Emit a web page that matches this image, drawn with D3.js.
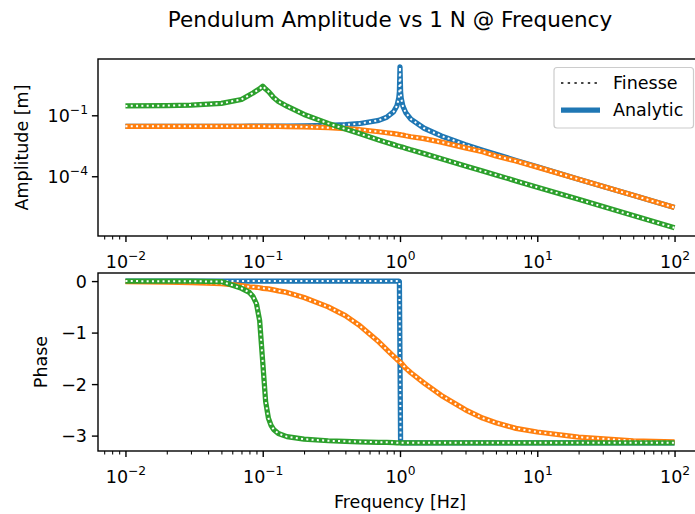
<!DOCTYPE html>
<meta charset="utf-8">
<style>
    body {
        margin: 0;
        background: #fff;
    }

    svg {
        font-family: "DejaVu Sans", sans-serif;
    }

    .tick line {
        stroke: #000;
    }
</style>
<body>
<script src="https://d3js.org/d3.v7.min.js"></script>
<script>
    const freq = [0.01, 0.02, 0.03, 0.05, 0.07, 0.08, 0.085, 0.09, 0.095, 0.1, 0.105, 0.11, 0.115, 0.12, 0.13,
        0.15, 0.2, 0.3, 0.4, 0.5, 0.7, 0.8, 0.9, 0.95, 0.98, 0.99, 1.0, 1.01, 1.02, 1.05, 1.1, 1.2, 1.5, 2, 3,
        4, 5, 7, 10, 20, 50, 100];

    // amplitude [m]
    const ampBlue = [0.0288, 0.0288, 0.0288, 0.0288, 0.0288, 0.029, 0.029, 0.029, 0.0291, 0.0291, 0.0291,
        0.0292, 0.0292, 0.0292, 0.0293, 0.0295, 0.030, 0.0316, 0.0343, 0.0384, 0.0565, 0.08, 0.152, 0.295,
        0.727, 1.45, 24, 1.43, 0.71, 0.281, 0.137, 0.065, 0.023, 0.0096, 0.0036, 0.0019, 0.0012, 6.0e-4,
        2.9e-4, 7.2e-5, 1.15e-5, 2.88e-6];
    const ampOrange = [0.0288, 0.0288, 0.0288, 0.0288, 0.0287, 0.0286, 0.0286, 0.0286, 0.0285, 0.0285, 0.0285,
        0.0284, 0.0284, 0.0283, 0.0282, 0.028, 0.0269, 0.0245, 0.0223, 0.020, 0.0155, 0.0138, 0.0124, 0.0118,
        0.0114, 0.0113, 0.0112, 0.0111, 0.0109, 0.0105, 0.0098, 0.0088, 0.0071, 0.0048, 0.0025, 0.0016, 0.001,
        5.6e-4, 2.82e-4, 7.1e-5, 1.15e-5, 2.88e-6];
    const ampGreen = [0.29, 0.30, 0.32, 0.385, 0.6, 1.0, 1.25, 1.6, 2.0, 2.7, 1.95, 1.5, 1.05, 0.75, 0.48,
        0.28, 0.11, 0.04, 0.021, 0.013, 0.0061, 0.0046, 0.0036, 0.0032, 0.0030, 0.00296, 0.0029, 0.00285,
        0.0028, 0.00265, 0.0024, 0.002, 0.0013, 7.3e-4, 3.2e-4, 1.8e-4, 1.16e-4, 5.9e-5, 2.9e-5, 7.3e-6,
        1.16e-6, 2.9e-7];

    // phase [rad]
    const phaseBlue = [0, 0, 0, 0, 0, 0, 0, 0, 0, 0, 0, 0, 0, 0, 0, 0, 0, 0, 0, 0, 0, 0, 0, 0, 0, -0.01, -1.57,
        -3.13, -3.14, -3.14, -3.14, -3.14, -3.14, -3.14, -3.14, -3.14, -3.14, -3.14, -3.14, -3.14, -3.14, -3.14];
    const phaseOrange = [-0.01, -0.02, -0.03, -0.05, -0.09, -0.11, -0.115, -0.12, -0.13, -0.14, -0.145, -0.15,
        -0.16, -0.17, -0.19, -0.22, -0.32, -0.5, -0.67, -0.85, -1.18, -1.33, -1.46, -1.52, -1.55, -1.56, -1.57,
        -1.58, -1.59, -1.63, -1.69, -1.78, -1.98, -2.22, -2.5, -2.66, -2.75, -2.86, -2.93, -3.03, -3.1, -3.12];
    const phaseGreen = [0, -0.002, -0.003, -0.01, -0.14, -0.22, -0.3, -0.44, -0.77, -1.57, -2.34, -2.66, -2.8,
        -2.88, -2.96, -3.02, -3.07, -3.1, -3.11, -3.12, -3.13, -3.13, -3.135, -3.14, -3.14, -3.14, -3.14, -3.14,
        -3.14, -3.14, -3.14, -3.14, -3.14, -3.14, -3.14, -3.14, -3.14, -3.14, -3.14, -3.14, -3.14, -3.14];

    const colors = ["#1f77b4", "#ff7f0e", "#2ca02c"];
    const freqTicks = [0.01, 0.1, 1, 10, 100];
    const ampTicks = [1e-1, 1e-4];
    const phaseTicks = [0, -1, -2, -3];
    const legendLabels = ["Finesse", "Analytic"];
    const titleText = "Pendulum Amplitude vs 1 N @ Frequency";

    const width = 695, height = 514;
    const left = 98, right = 702;
    const top1 = 59, bot1 = 236, top2 = 273, bot2 = 451;
    const fs = 17.5;

    const svg = d3.select("body").append("svg")
        .attr("width", width)
        .attr("height", height);

    const x = d3.scaleLog().domain([Math.pow(10, -2.2), Math.pow(10, 2.2)]).range([left, right]);
    const yAmp = d3.scaleLog().domain([Math.pow(10, -6.94), Math.pow(10, 1.77)]).range([bot1, top1]);
    const yPh = d3.scaleLinear().domain([-3.299, 0.157]).range([bot2, top2]);

    // minor log ticks 2..9 of every decade inside the domain
    const minorX = [];
    for (let k = -3; k <= 2; k++) {
        for (let m = 2; m <= 9; m++) {
            const v = m * Math.pow(10, k);
            if (v > x.domain()[0] && v < x.domain()[1]) minorX.push(v);
        }
    }

    function expText(e) {
        return e < 0 ? "\u2212" + (-e) : String(e);
    }

    // "10" with a superscript exponent
    function powLabel(sel) {
        sel.each(function (d) {
            const t = d3.select(this);
            t.text(null);
            t.append("tspan").text("10");
            t.append("tspan")
                .attr("dy", "-8px")
                .attr("font-size", 12.3)
                .text(expText(Math.round(Math.log10(d))));
        });
    }

    function xAxis(yPos) {
        svg.append("g")
            .attr("transform", "translate(0," + yPos + ")")
            .call(d3.axisBottom(x).tickValues(minorX).tickSize(3.5).tickFormat(""))
            .call(g => g.select(".domain").remove())
            .selectAll(".tick line").attr("stroke-width", 1.05);

        const g = svg.append("g")
            .attr("transform", "translate(0," + yPos + ")")
            .call(d3.axisBottom(x).tickValues(freqTicks).tickSize(6.1).tickFormat(""));
        g.select(".domain").remove();
        g.attr("font-size", fs).attr("font-family", null);
        g.selectAll(".tick line").attr("stroke-width", 1.4);
        g.selectAll(".tick text")
            .attr("y", 32)
            .attr("dy", null)
            .attr("fill", "#000")
            .call(powLabel);
    }

    const defs = svg.append("defs");
    [[top1, bot1, "clip1"], [top2, bot2, "clip2"]].forEach(c => {
        defs.append("clipPath").attr("id", c[2])
            .append("rect")
            .attr("x", left).attr("y", c[0])
            .attr("width", right - left).attr("height", c[1] - c[0]);
    });

    // ---- top panel: amplitude
    xAxis(bot1);
    const gy1 = svg.append("g")
        .attr("transform", "translate(" + left + ",0)")
        .call(d3.axisLeft(yAmp).tickValues(ampTicks).tickSize(6.1).tickFormat(""));
    gy1.select(".domain").remove();
    gy1.attr("font-size", fs).attr("font-family", null);
    gy1.selectAll(".tick line").attr("stroke-width", 1.4);
    gy1.selectAll(".tick text")
        .attr("x", -10)
        .attr("dy", "6.5px")
        .attr("fill", "#000")
        .call(powLabel);

    // ---- bottom panel: phase
    xAxis(bot2);
    const gy2 = svg.append("g")
        .attr("transform", "translate(" + left + ",0)")
        .call(d3.axisLeft(yPh).tickValues(phaseTicks).tickSize(6.1).tickFormat(d => d < 0 ? "\u2212" + (-d) : "0"));
    gy2.select(".domain").remove();
    gy2.attr("font-size", fs).attr("font-family", null);
    gy2.selectAll(".tick line").attr("stroke-width", 1.4);
    gy2.selectAll(".tick text")
        .attr("x", -11)
        .attr("dy", "6.3px")
        .attr("fill", "#000");

    // curves: analytic (thick, coloured) then finesse (dotted) on top
    const series = [
        {amp: ampBlue, phase: phaseBlue},
        {amp: ampOrange, phase: phaseOrange},
        {amp: ampGreen, phase: phaseGreen}
    ];

    const lineAmp = d3.line().x((d, i) => x(freq[i])).y(d => yAmp(d));
    const linePh = d3.line().x((d, i) => x(freq[i])).y(d => yPh(d));

    const plot1 = svg.append("g").attr("clip-path", "url(#clip1)");
    const plot2 = svg.append("g").attr("clip-path", "url(#clip2)");

    series.forEach((s, k) => {
        [[plot1, lineAmp, s.amp], [plot2, linePh, s.phase]].forEach(p => {
            p[0].append("path")
                .attr("d", p[1](p[2]))
                .attr("fill", "none")
                .attr("stroke", colors[k])
                .attr("stroke-width", 5.25)
                .attr("stroke-linejoin", "round");
            p[0].append("path")
                .attr("d", p[1](p[2]))
                .attr("fill", "none")
                .attr("stroke", "#fff")
                .attr("stroke-width", 2)
                .attr("stroke-dasharray", "2,3.3");
        });
    });

    // spines
    [[top1, bot1], [top2, bot2]].forEach(c => {
        svg.append("rect")
            .attr("x", left).attr("y", c[0])
            .attr("width", right - left).attr("height", c[1] - c[0])
            .attr("fill", "none")
            .attr("stroke", "#000")
            .attr("stroke-width", 1.4);
    });

    // axis labels
    svg.append("text")
        .attr("transform", "translate(27.5," + ((top1 + bot1) / 2) + ") rotate(-90)")
        .attr("text-anchor", "middle")
        .attr("font-size", fs)
        .text("Amplitude [m]");
    svg.append("text")
        .attr("transform", "translate(47," + ((top2 + bot2) / 2) + ") rotate(-90)")
        .attr("text-anchor", "middle")
        .attr("font-size", fs)
        .text("Phase");
    svg.append("text")
        .attr("x", (left + right) / 2)
        .attr("y", 508)
        .attr("text-anchor", "middle")
        .attr("font-size", fs)
        .text("Frequency [Hz]");

    // title
    svg.append("text")
        .attr("x", 390)
        .attr("y", 27)
        .attr("text-anchor", "middle")
        .attr("font-size", 21.5)
        .text(titleText);

    // legend
    const legend = svg.append("g").attr("class", "legend");
    legend.append("rect")
        .attr("x", 554).attr("y", 67.5)
        .attr("width", 139.5).attr("height", 60.5)
        .attr("rx", 3)
        .attr("fill", "#fff").attr("fill-opacity", 0.8)
        .attr("stroke", "#ccc").attr("stroke-width", 1.2);

    const rows = legend.selectAll(".row")
        .data(legendLabels)
        .enter().append("g")
        .attr("class", "row")
        .attr("transform", (d, i) => "translate(0," + (83 + i * 27) + ")");

    rows.append("line")
        .attr("x1", 561).attr("x2", 600)
        .attr("stroke", (d, i) => i === 0 ? "#444" : colors[0])
        .attr("stroke-width", (d, i) => i === 0 ? 2 : 5.25)
        .attr("stroke-dasharray", (d, i) => i === 0 ? "2.4,4.3" : null);

    rows.append("text")
        .attr("x", 613)
        .attr("dy", "0.36em")
        .attr("font-size", fs)
        .text(d => d);
</script>
</body>
